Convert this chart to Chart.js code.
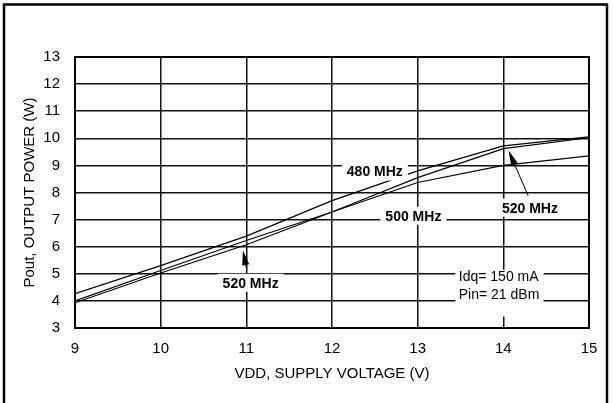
<!DOCTYPE html>
<html>
<head>
<meta charset="utf-8">
<script src="https://cdn.jsdelivr.net/npm/chart.js@4/dist/chart.umd.min.js"></script>
<style>
  html, body { margin: 0; padding: 0; background: #fff; }
  #wrap { width: 613px; height: 403px; }
</style>
</head>
<body>
<div id="wrap"><canvas id="chartPout" width="613" height="403"></canvas></div>
<script>
// supply voltage (V)
const voltage = [9, 10, 11, 12, 13, 14, 15];
// output power (W) per frequency
const pout480 = [4.27, 5.3, 6.39, 7.7, 8.8, 9.72, 10.05];
const pout500 = [4.0, 5.12, 6.23, 7.28, 8.37, 9.0, 9.35];
const pout520 = [3.93, 5.03, 6.07, 7.28, 8.55, 9.62, 10.02];
const yRange = [3, 13];
const xRange = [9, 15];

// callouts: text + anchor in data units
const labels = [
  { text: "480 MHz", x: 12.5, y: 8.77 },
  { text: "500 MHz", x: 12.95, y: 7.14 },
  { text: "520 MHz", x: 14.31, y: 7.44 },
  { text: "520 MHz", x: 11.05, y: 4.67 },
];
const arrows = [
  { from: [14.29, 7.88], to: [14.06, 9.55] },
  { from: [11.0, 5.21], to: [10.96, 5.87] },
];
const conditions = ["Idq= 150 mA", "Pin= 21 dBm"];

Chart.defaults.font.family = '"Liberation Sans", Arial, Helvetica, sans-serif';
Chart.defaults.color = "#000";

function toXY(ys) {
  return voltage.map(function (v, i) { return { x: v, y: ys[i] }; });
}

const calloutPlugin = {
  id: "callouts",
  afterDatasetsDraw(chart) {
    const ctx = chart.ctx;
    const sx = chart.scales.x, sy = chart.scales.y;
    ctx.save();

    // arrows
    arrows.forEach(function (a) {
      const x0 = sx.getPixelForValue(a.from[0]), y0 = sy.getPixelForValue(a.from[1]);
      const x1 = sx.getPixelForValue(a.to[0]), y1 = sy.getPixelForValue(a.to[1]);
      const ang = Math.atan2(y1 - y0, x1 - x0);
      ctx.strokeStyle = "#000";
      ctx.lineWidth = 1;
      ctx.beginPath();
      ctx.moveTo(x0, y0);
      ctx.lineTo(x1 - Math.cos(ang) * 8, y1 - Math.sin(ang) * 8);
      ctx.stroke();
      ctx.fillStyle = "#000";
      ctx.beginPath();
      ctx.moveTo(x1, y1);
      ctx.lineTo(x1 - Math.cos(ang) * 15 + Math.sin(ang) * 3.5, y1 - Math.sin(ang) * 15 - Math.cos(ang) * 3.5);
      ctx.lineTo(x1 - Math.cos(ang) * 15 - Math.sin(ang) * 3.5, y1 - Math.sin(ang) * 15 + Math.cos(ang) * 3.5);
      ctx.closePath();
      ctx.fill();
    });

    // frequency labels on white boxes
    ctx.font = 'bold 14px "Liberation Sans", Arial, sans-serif';
    ctx.textAlign = "center";
    ctx.textBaseline = "middle";
    labels.forEach(function (l) {
      const px = sx.getPixelForValue(l.x), py = sy.getPixelForValue(l.y);
      const w = ctx.measureText(l.text).width;
      ctx.fillStyle = "#fff";
      ctx.fillRect(px - w / 2 - 5, py - 9, w + 10, 18);
      ctx.fillStyle = "#000";
      ctx.fillText(l.text, px, py + 1);
    });

    // test conditions
    const bx0 = sx.getPixelForValue(13.44), bx1 = sx.getPixelForValue(14.47);
    const by0 = sy.getPixelForValue(5.15), by1 = sy.getPixelForValue(3.42);
    ctx.fillStyle = "#fff";
    ctx.fillRect(bx0, by0, bx1 - bx0, by1 - by0);
    ctx.fillStyle = "#000";
    ctx.font = '14px "Liberation Sans", Arial, sans-serif';
    ctx.textAlign = "left";
    const tx = sx.getPixelForValue(13.48);
    ctx.fillText(conditions[0], tx, sy.getPixelForValue(4.86));
    ctx.fillText(conditions[1], tx, sy.getPixelForValue(4.23));

    // plot frame
    const a = chart.chartArea;
    ctx.strokeStyle = "#000";
    ctx.lineWidth = 2;
    ctx.strokeRect(a.left, a.top, a.right - a.left, a.bottom - a.top);
    ctx.restore();
  },
  afterDraw(chart) {
    const ctx = chart.ctx;
    ctx.save();
    ctx.strokeStyle = "#000";
    ctx.lineWidth = 2.5;
    ctx.beginPath();
    ctx.moveTo(4, 420);
    ctx.lineTo(4, 4.5);
    ctx.lineTo(607, 4.5);
    ctx.lineTo(607, 420);
    ctx.stroke();
    ctx.restore();
  },
};

const lineStyle = {
  borderColor: "#000",
  borderWidth: 1.2,
  pointRadius: 0,
  tension: 0,
  fill: false,
};

const ctxPout = document.getElementById("chartPout");
const chartPout = new Chart(ctxPout, {
  type: "line",
  data: {
    datasets: [
      Object.assign({ label: "480 MHz", data: toXY(pout480) }, lineStyle),
      Object.assign({ label: "500 MHz", data: toXY(pout500) }, lineStyle),
      Object.assign({ label: "520 MHz", data: toXY(pout520) }, lineStyle),
    ],
  },
  options: {
    responsive: false,
    animation: false,
    events: [],
    layout: { padding: { top: 57, right: 24, bottom: 0, left: 0 } },
    plugins: {
      legend: { display: false },
      tooltip: { enabled: false },
    },
    scales: {
      x: {
        type: "linear",
        min: xRange[0],
        max: xRange[1],
        afterFit: function (s) { s.height = 75; },
        grid: { color: "#111", lineWidth: 1.5, drawTicks: false },
        border: { color: "#000", width: 2 },
        ticks: { stepSize: 1, padding: 12, font: { size: 15 } },
        title: {
          display: true,
          text: "VDD, SUPPLY VOLTAGE (V)",
          font: { size: 15 },
          padding: { top: 0, bottom: 20 },
        },
      },
      y: {
        min: yRange[0],
        max: yRange[1],
        afterFit: function (s) { s.width = 75; },
        grid: { color: "#111", lineWidth: 1.5, drawTicks: false },
        border: { color: "#000", width: 2 },
        ticks: { stepSize: 1, padding: 15, font: { size: 15 } },
        title: {
          display: true,
          text: "Pout, OUTPUT POWER (W)",
          font: { size: 15 },
          padding: { top: 21, bottom: 0 },
        },
      },
    },
  },
  plugins: [calloutPlugin],
});
</script>
</body>
</html>
